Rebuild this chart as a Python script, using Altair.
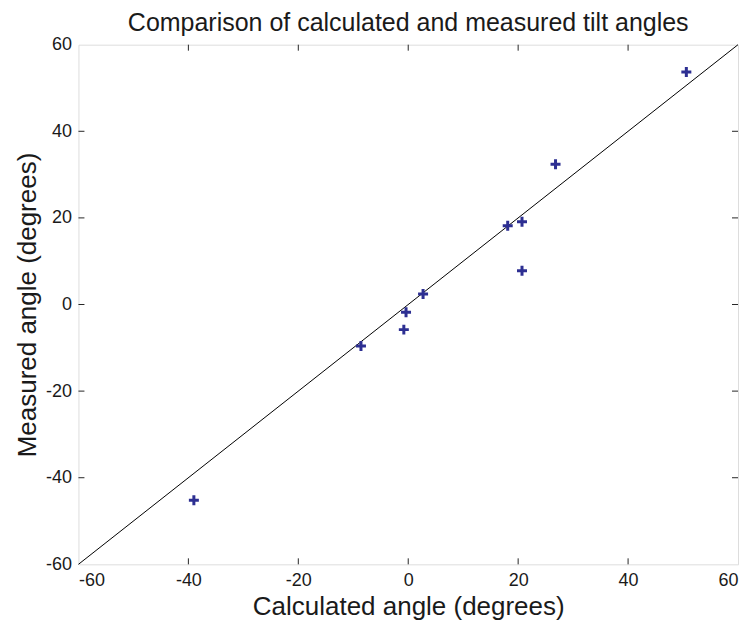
import altair as alt
import pandas as pd

calc = [50.6, 26.8, 20.7, 20.7, 18.1, 2.7, -0.4, -0.8, -8.6, -39.0]
meas = [53.7, 32.4, 19.1, 7.8, 18.2, 2.4, -1.8, -5.8, -9.6, -45.2]
ticks = [-60, -40, -20, 0, 20, 40, 60]
line_x = [-60, 60]

W, H = 660, 520
FONT = "Liberation Sans"

pts = pd.DataFrame({"calc": calc, "meas": meas})
diag = pd.DataFrame({"calc": line_x, "meas": line_x})
tk = pd.DataFrame({"t": ticks[1:-1]})

xs = alt.Scale(domain=[-60, 60], nice=False, zero=False)
ys = alt.Scale(domain=[-60, 60], nice=False, zero=False)

lab = "'' + datum.value"
xaxis = alt.Axis(values=ticks, ticks=False, domain=False, grid=False, labelFontSize=18,
                 labelFont=FONT, labelColor="#1a1a1a", labelPadding=7, labelExpr=lab,
                 title="Calculated angle (degrees)", titleFont=FONT, titleFontSize=26,
                 titleFontWeight="normal", titleColor="#1a1a1a", titlePadding=4)
yaxis = alt.Axis(values=ticks, ticks=False, domain=False, grid=False, labelFontSize=18,
                 labelFont=FONT, labelColor="#1a1a1a", labelPadding=7, labelExpr=lab,
                 title="Measured angle (degrees)", titleFont=FONT, titleFontSize=26,
                 titleFontWeight="normal", titleColor="#1a1a1a", titlePadding=5)

line = alt.Chart(diag).mark_line(color="black", strokeWidth=1).encode(
    x=alt.X("calc:Q", scale=xs, axis=xaxis),
    y=alt.Y("meas:Q", scale=ys, axis=yaxis),
)

plus = "M-1,0H1M0,-1V1"
points = alt.Chart(pts).mark_point(shape=plus, filled=False, size=100, strokeWidth=3,
                                   color="#2d2f92", opacity=1).encode(
    x="calc:Q", y="meas:Q")

tc = "#262626"
tb = alt.Chart(tk).mark_rule(color=tc, strokeWidth=1).encode(
    x="t:Q", y=alt.value(H), y2=alt.value(H - 6))
tt = alt.Chart(tk).mark_rule(color=tc, strokeWidth=1).encode(
    x="t:Q", y=alt.value(0), y2=alt.value(6))
tl = alt.Chart(tk).mark_rule(color=tc, strokeWidth=1).encode(
    y="t:Q", x=alt.value(0), x2=alt.value(6))
tr = alt.Chart(tk).mark_rule(color=tc, strokeWidth=1).encode(
    y="t:Q", x=alt.value(W), x2=alt.value(W - 6))

chart = alt.layer(line, points, tb, tt, tl, tr).properties(
    width=W, height=H,
    title=alt.TitleParams("Comparison of calculated and measured tilt angles",
                          font=FONT, fontSize=25, fontWeight="normal", color="#1a1a1a",
                          anchor="middle", offset=0),
    autosize=alt.AutoSizeParams(type="none"),
    padding={"left": 70.5, "top": 36.5, "right": 8, "bottom": 60},
).configure_view(stroke="#262626", strokeWidth=1.5).configure(background="white")

chart.save("out.html", embed_options={"renderer": "svg", "actions": False})
